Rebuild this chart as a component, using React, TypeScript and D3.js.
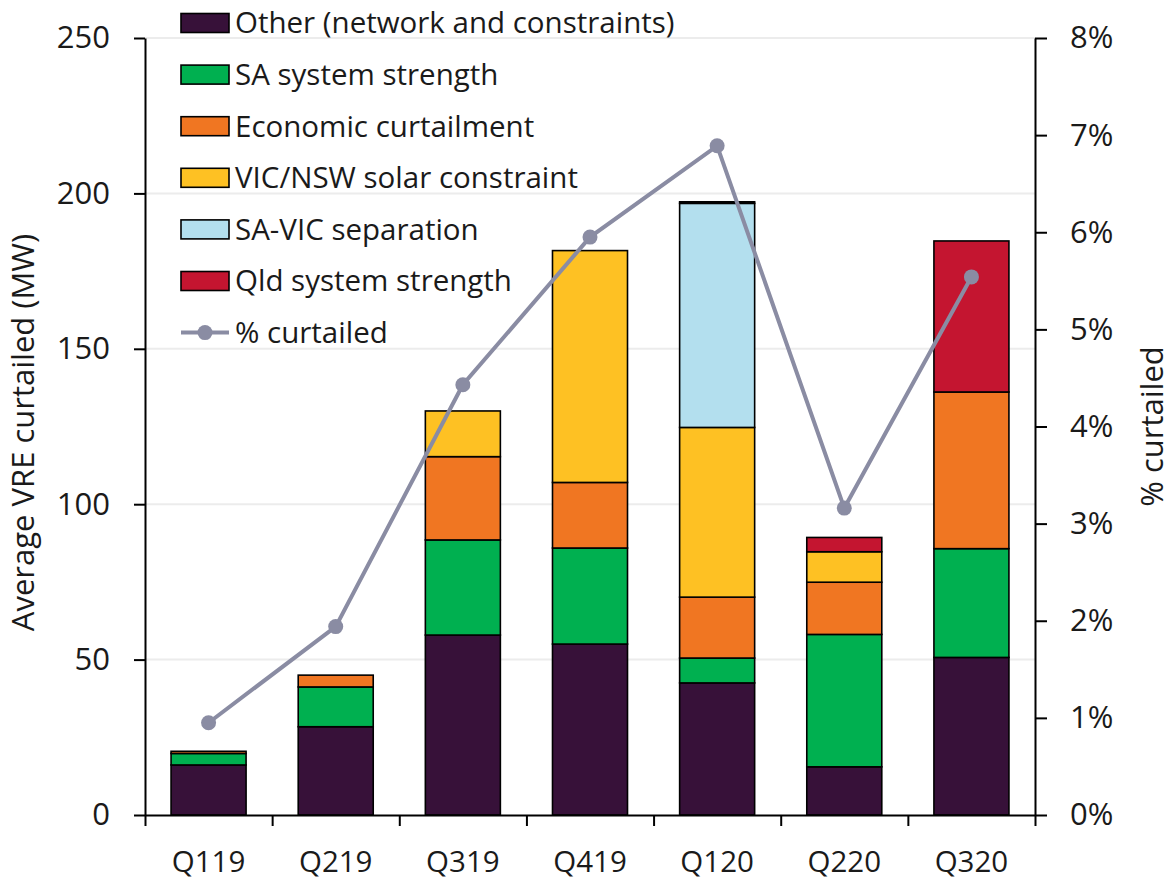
import { useEffect, useRef } from 'react';
import * as d3 from 'd3';

const QUARTERS = ['Q119', 'Q219', 'Q319', 'Q419', 'Q120', 'Q220', 'Q320'];

const OTHER = [16.1, 28.4, 57.9, 55.0, 42.5, 15.5, 50.7];
const SA_STRENGTH = [3.7, 12.8, 30.6, 30.9, 8.0, 42.6, 35.0];
const ECONOMIC = [0.7, 3.8, 26.8, 21.1, 19.6, 16.8, 50.4];
const VIC_NSW_SOLAR = [0, 0, 14.7, 74.6, 54.6, 9.8, 0];
const SA_VIC_SEP = [0, 0, 0, 0, 72.1, 0, 0];
const QLD_STRENGTH = [0, 0, 0, 0, 0.5, 4.6, 48.6];

const PCT_CURTAILED = [0.0095, 0.0194, 0.0443, 0.0595, 0.0689, 0.0316, 0.0554];

const LEFT_TICKS = [0, 50, 100, 150, 200, 250];
const RIGHT_TICKS = [0, 0.01, 0.02, 0.03, 0.04, 0.05, 0.06, 0.07, 0.08];

const SERIES = [
  { key: 'other', label: 'Other (network and constraints)', color: '#371139', values: OTHER },
  { key: 'sa', label: 'SA system strength', color: '#00b050', values: SA_STRENGTH },
  { key: 'econ', label: 'Economic curtailment', color: '#f07622', values: ECONOMIC },
  { key: 'vicnsw', label: 'VIC/NSW solar constraint', color: '#fec123', values: VIC_NSW_SOLAR },
  { key: 'savic', label: 'SA-VIC separation', color: '#b3dfee', values: SA_VIC_SEP },
  { key: 'qld', label: 'Qld system strength', color: '#c41530', values: QLD_STRENGTH },
];

const LINE_COLOR = '#8a8ca3';
const FONT = '"Open Sans", "Noto Sans", sans-serif';
const TEXT_COLOR = '#1a1a1a';

const App = () => {
  const svgRef = useRef<SVGSVGElement>(null);

  useEffect(() => {
    if (!svgRef.current) return;
    const width = 1171;
    const height = 884;
    const left = 145, right = 1035, top = 38, bottom = 815;

    const svg = d3.select(svgRef.current);
    svg.selectAll('*').remove();
    svg.attr('width', width).attr('height', height);

    const rows = QUARTERS.map((q, i) => {
      const row: any = { quarter: q };
      SERIES.forEach(s => { row[s.key] = s.values[i]; });
      return row;
    });

    const x = d3.scaleBand()
      .domain(QUARTERS)
      .range([left, right])
      .paddingInner(0.41)
      .paddingOuter(0.205);

    const edges = d3.scaleLinear().domain([0, QUARTERS.length]).range([left, right]);
    const y = d3.scaleLinear().domain([0, 250]).range([bottom, top]);
    const y2 = d3.scaleLinear().domain([0, 0.08]).range([bottom, top]);

    // GRIDLINES
    svg.append('g')
      .selectAll('line')
      .data(LEFT_TICKS.filter(d => d > 0))
      .join('line')
      .attr('x1', left).attr('x2', right)
      .attr('y1', d => y(d)).attr('y2', d => y(d))
      .attr('stroke', '#ececec').attr('stroke-width', 2);

    // STACKED BARS
    const stacked = d3.stack().keys(SERIES.map(s => s.key))(rows);
    svg.append('g')
      .selectAll('g')
      .data(stacked)
      .join('g')
      .attr('fill', (_, i) => SERIES[i].color)
      .selectAll('rect')
      .data(d => d.filter(p => p[1] - p[0] > 0))
      .join('rect')
      .attr('x', d => x((d.data as any).quarter)!)
      .attr('y', d => y(d[1]))
      .attr('width', x.bandwidth())
      .attr('height', d => y(d[0]) - y(d[1]))
      .attr('stroke', '#000')
      .attr('stroke-width', 1.6);

    // AXES
    const styleAxis = (size: number) => (g: any) => {
      g.selectAll('.domain, .tick line').attr('stroke', '#000').attr('stroke-width', 2);
      g.selectAll('text')
        .attr('fill', TEXT_COLOR)
        .style('font-family', FONT)
        .style('font-size', `${size}px`);
    };

    svg.append('g')
      .attr('transform', `translate(${left},0)`)
      .call(d3.axisLeft(y).tickValues(LEFT_TICKS).tickSize(11).tickSizeOuter(0).tickPadding(24))
      .call(styleAxis(31));

    svg.append('g')
      .attr('transform', `translate(${right},0)`)
      .call(d3.axisRight(y2).tickValues(RIGHT_TICKS).tickFormat(d3.format('.0%')).tickSize(12).tickSizeOuter(0).tickPadding(23))
      .call(styleAxis(31));

    svg.append('g')
      .attr('transform', `translate(0,${bottom})`)
      .call(d3.axisBottom(edges).tickValues(d3.range(QUARTERS.length + 1)).tickFormat(() => '').tickSize(11).tickSizeOuter(0))
      .call(styleAxis(29));

    svg.append('g')
      .attr('transform', `translate(0,${bottom})`)
      .call(d3.axisBottom(x).tickSize(0).tickPadding(36))
      .call(styleAxis(29.5))
      .call((g: any) => g.select('.domain').remove());

    // AXIS TITLES
    svg.append('text')
      .attr('transform', `translate(34,${(top + bottom) / 2 + 6}) rotate(-90)`)
      .attr('text-anchor', 'middle')
      .attr('fill', TEXT_COLOR)
      .style('font-family', FONT).style('font-size', '31px')
      .text('Average VRE curtailed (MW)');

    svg.append('text')
      .attr('transform', `translate(1163,${(top + bottom) / 2}) rotate(-90)`)
      .attr('text-anchor', 'middle')
      .attr('fill', TEXT_COLOR)
      .style('font-family', FONT).style('font-size', '31px')
      .text('% curtailed');

    // % CURTAILED LINE
    const cx = (i: number) => x(QUARTERS[i])! + x.bandwidth() / 2;
    const line = d3.line<number>().x((_, i) => cx(i)).y(d => y2(d));
    svg.append('path')
      .datum(PCT_CURTAILED)
      .attr('d', line)
      .attr('fill', 'none')
      .attr('stroke', LINE_COLOR)
      .attr('stroke-width', 4);
    svg.append('g')
      .selectAll('circle')
      .data(PCT_CURTAILED)
      .join('circle')
      .attr('cx', (_, i) => cx(i))
      .attr('cy', d => y2(d))
      .attr('r', 7.5)
      .attr('fill', LINE_COLOR);

    // LEGEND
    const legend = svg.append('g').attr('transform', 'translate(181,0)');
    const rowY = (i: number) => 23 + i * 51.6;
    SERIES.forEach((s, i) => {
      legend.append('rect')
        .attr('x', 0).attr('y', rowY(i) - 9.5)
        .attr('width', 48).attr('height', 19)
        .attr('fill', s.color).attr('stroke', '#000').attr('stroke-width', 1.6);
      legend.append('text')
        .attr('x', 54).attr('y', rowY(i)).attr('dy', '0.35em')
        .attr('fill', TEXT_COLOR)
        .style('font-family', FONT).style('font-size', '29.5px')
        .text(s.label);
    });
    const li = SERIES.length;
    legend.append('line')
      .attr('x1', 0).attr('x2', 48)
      .attr('y1', rowY(li)).attr('y2', rowY(li))
      .attr('stroke', LINE_COLOR).attr('stroke-width', 4);
    legend.append('circle')
      .attr('cx', 24).attr('cy', rowY(li)).attr('r', 7.5)
      .attr('fill', LINE_COLOR);
    legend.append('text')
      .attr('x', 54).attr('y', rowY(li)).attr('dy', '0.35em')
      .attr('fill', TEXT_COLOR)
      .style('font-family', FONT).style('font-size', '29.5px')
      .text('% curtailed');
  }, []);

  return (
    <div style={{ position: 'absolute', left: 0, top: 0, background: '#fff' }}>
      <svg ref={svgRef} style={{ display: 'block' }} />
    </div>
  );
};

export default App;
